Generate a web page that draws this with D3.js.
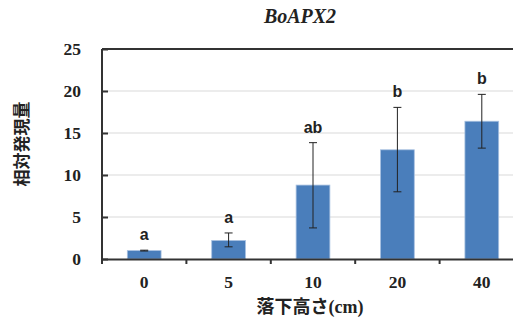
<!DOCTYPE html>
<html>
<head>
<meta charset="utf-8">
<script src="https://cdn.jsdelivr.net/npm/d3@7"></script>
<style>
  body { margin: 0; background: #fff; }
  svg { display: block; }
</style>
</head>
<body>
<svg id="chart" width="513" height="322"></svg>
<script>
// data
const heights = ['0', '5', '10', '20', '40'];
const means = [1.0, 2.2, 8.8, 13.0, 16.4];
const errLow = [0.95, 1.45, 3.7, 8.0, 13.2];
const errHigh = [1.05, 3.1, 13.85, 18.05, 19.6];
const groups = ['a', 'a', 'ab', 'b', 'b'];
const yTicks = [0, 5, 10, 15, 20, 25];

const margin = { left: 102, right: -11, top: 49, bottom: 63 };
const width = 513, height = 322;
const drawWidth = width - margin.left - margin.right;
const drawHeight = height - margin.top - margin.bottom;

const svg = d3.select('#chart');
const g = svg.append('g').attr('transform', `translate(${margin.left},${margin.top})`);

const xScale = d3.scaleBand().domain(heights).range([0, drawWidth]).padding(0);
const yScale = d3.scaleLinear().domain([0, 25]).range([drawHeight, 0]);

const serif = '"Liberation Serif", "Times New Roman", serif';
const sans = '"Liberation Sans", Arial, sans-serif';
const cjk = '"Noto Sans CJK JP", sans-serif';

// gridlines
g.selectAll('line.grid')
  .data(yTicks.filter(t => t > 0 && t < 25))
  .enter().append('line')
  .attr('x1', 0).attr('x2', drawWidth)
  .attr('y1', d => yScale(d)).attr('y2', d => yScale(d))
  .attr('stroke', '#d9d9d9').attr('stroke-width', 1);

// top border line
g.append('line')
  .attr('x1', 0).attr('x2', drawWidth)
  .attr('y1', yScale(25)).attr('y2', yScale(25))
  .attr('stroke', '#333').attr('stroke-width', 2);

// bars
const barW = xScale.bandwidth() * 0.4;
g.selectAll('rect.bar')
  .data(means)
  .enter().append('rect')
  .attr('x', (d, i) => xScale(heights[i]) + (xScale.bandwidth() - barW) / 2)
  .attr('y', d => yScale(d))
  .attr('width', barW)
  .attr('height', d => drawHeight - yScale(d))
  .attr('fill', '#4a7ebb')
  .attr('stroke', '#a7c0e0')
  .attr('stroke-width', 0.8);

// error bars
const cx = i => xScale(heights[i]) + xScale.bandwidth() / 2;
const err = g.selectAll('g.err').data(means).enter().append('g')
  .attr('stroke', '#222').attr('stroke-width', 1);
err.append('line')
  .attr('x1', (d, i) => cx(i)).attr('x2', (d, i) => cx(i))
  .attr('y1', (d, i) => yScale(errLow[i])).attr('y2', (d, i) => yScale(errHigh[i]));
err.append('line')
  .attr('x1', (d, i) => cx(i) - 4).attr('x2', (d, i) => cx(i) + 4)
  .attr('y1', (d, i) => yScale(errHigh[i])).attr('y2', (d, i) => yScale(errHigh[i]));
err.append('line')
  .attr('x1', (d, i) => cx(i) - 4).attr('x2', (d, i) => cx(i) + 4)
  .attr('y1', (d, i) => yScale(errLow[i])).attr('y2', (d, i) => yScale(errLow[i]));

// significance letters
g.selectAll('text.sig')
  .data(groups)
  .enter().append('text')
  .attr('x', (d, i) => cx(i))
  .attr('y', (d, i) => yScale(errHigh[i]) - 10)
  .attr('text-anchor', 'middle')
  .style('font-family', sans).style('font-weight', 'bold').style('font-size', '16px')
  .attr('fill', '#222')
  .text(d => d);

// y axis
const yAxis = g.append('g')
  .call(d3.axisRight(yScale).tickValues(yTicks).tickSize(6).tickFormat(d3.format('d')));
yAxis.select('.domain').attr('stroke', '#333').attr('stroke-width', 2)
  .attr('d', `M0,${drawHeight + 3}V0`);
yAxis.selectAll('.tick line').attr('stroke', '#333').attr('stroke-width', 2);
yAxis.selectAll('.tick text')
  .attr('x', -21).attr('text-anchor', 'end')
  .style('font-family', serif).style('font-weight', 'bold').style('font-size', '17.5px')
  .attr('fill', '#222');

// x axis
const xAxis = g.append('g').attr('transform', `translate(0,${drawHeight})`)
  .call(d3.axisBottom(xScale).tickSize(0));
xAxis.select('.domain').attr('stroke', '#333').attr('stroke-width', 2);
xAxis.selectAll('.tick text')
  .attr('dy', '1.5em')
  .style('font-family', serif).style('font-weight', 'bold').style('font-size', '17.5px')
  .attr('fill', '#222');
// category boundary ticks
xAxis.selectAll('line.bound')
  .data(heights)
  .enter().append('line')
  .attr('x1', d => xScale(d)).attr('x2', d => xScale(d))
  .attr('y1', 0).attr('y2', 5)
  .attr('stroke', '#333').attr('stroke-width', 2);

// title
svg.append('text')
  .attr('x', 300).attr('y', 23)
  .attr('text-anchor', 'middle')
  .style('font-family', serif).style('font-weight', 'bold').style('font-style', 'italic')
  .style('font-size', '20px').attr('fill', '#222')
  .text('BoAPX2');

// axis labels
svg.append('text')
  .attr('transform', 'translate(28,144) rotate(-90)')
  .attr('text-anchor', 'middle')
  .style('font-family', cjk).style('font-weight', 'bold').style('font-size', '17px')
  .attr('fill', '#222')
  .text('相対発現量');

const xl = svg.append('text')
  .attr('x', 310).attr('y', 313)
  .attr('text-anchor', 'middle')
  .attr('fill', '#222');
xl.append('tspan')
  .style('font-family', cjk).style('font-weight', 'bold').style('font-size', '18px')
  .text('落下高さ');
xl.append('tspan')
  .style('font-family', serif).style('font-weight', 'bold').style('font-size', '18px')
  .text('(cm)');
</script>
</body>
</html>
